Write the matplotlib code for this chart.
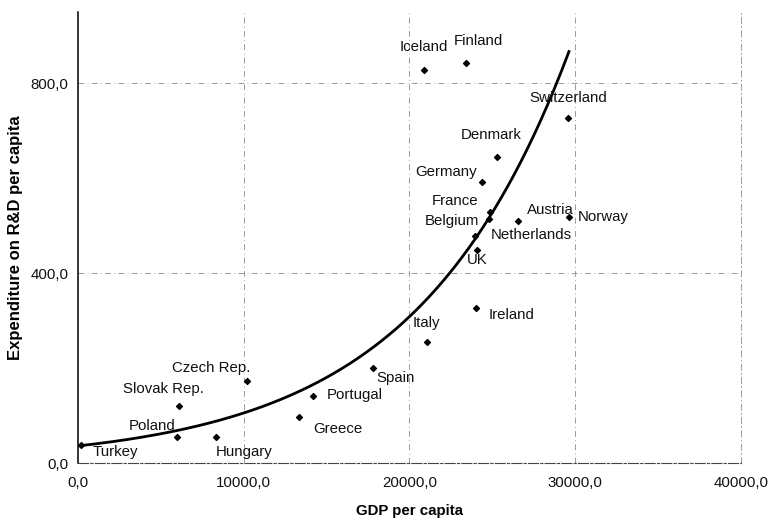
import numpy as np
import matplotlib
matplotlib.use("Agg")
import matplotlib.pyplot as plt
from matplotlib.ticker import FuncFormatter

plt.rcParams['font.family'] = ['Liberation Sans', 'DejaVu Sans']

countries = ["Turkey", "Poland", "Slovak Rep.", "Hungary", "Czech Rep.", "Greece",
             "Portugal", "Spain", "Italy", "Ireland", "UK", "Belgium", "France",
             "Austria", "Netherlands", "Norway", "Germany", "Denmark",
             "Switzerland", "Finland", "Iceland"]
gdp = [200, 5970, 6090, 8330, 10180, 13350,
       14200, 17820, 21050, 24010, 24070, 23950, 24860,
       24800, 26550, 29620, 24370, 25270,
       29560, 23400, 20900]
rd = [37, 55, 120, 55, 173, 97,
      141, 200, 255, 326, 448, 478, 528,
      515, 509, 518, 592, 644,
      726, 842, 827]

# exponential trend line: y = TREND_A * exp(TREND_B * x)
TREND_A = 36.0
TREND_B = 1.074e-4
TREND_X_END = 29620

# label offsets (points) relative to each marker
label_offsets = {
    "Turkey": (8, -5), "Poland": (-35, 8), "Slovak Rep.": (-40, 12),
    "Hungary": (0, -11), "Czech Rep.": (-54, 9), "Greece": (10, -9),
    "Portugal": (10, 1), "Spain": (2, -7), "Italy": (-10, 14),
    "Ireland": (9, -5), "UK": (-7, -7), "Belgium": (-36, 11),
    "France": (-42, 8), "Austria": (27, 6), "Netherlands": (-20, -10),
    "Norway": (6, 0), "Germany": (-48, 7), "Denmark": (-26, 16),
    "Switzerland": (-28, 15), "Finland": (-9, 16), "Iceland": (-18, 17),
}

fig = plt.figure(figsize=(7.69, 5.23), dpi=100)
ax = fig.add_axes([0.1014, 0.1147, 0.8622, 0.8623])

ax.set_xlim(0, 40000)
ax.set_ylim(0, 950)

grid_style = dict(color='#8a8a8a', lw=0.6, linestyle=(0, (7, 4, 1, 4)), zorder=0)
for gx in (10000, 20000, 30000):
    ax.axvline(gx, **grid_style)
for gy in (400, 800):
    ax.axhline(gy, **grid_style)

ax.spines['top'].set_visible(False)
ax.spines['right'].set_linestyle((0, (7, 4, 1, 4)))
ax.spines['right'].set_color('#8a8a8a')
ax.spines['right'].set_linewidth(0.6)
ax.spines['bottom'].set_linestyle((0, (9, 2, 2, 2)))
ax.spines['bottom'].set_color('#444444')
ax.spines['bottom'].set_linewidth(0.8)
ax.spines['left'].set_color('black')
ax.spines['left'].set_linewidth(1.1)

xs = np.linspace(0, TREND_X_END, 300)
ax.plot(xs, TREND_A * np.exp(TREND_B * xs), color='black', lw=2.0, zorder=2)

ax.scatter(gdp, rd, marker='D', s=9, color='black', zorder=3)

for name, x, y in zip(countries, gdp, rd):
    dx, dy = label_offsets[name]
    ax.annotate(name, (x, y), xytext=(dx, dy), textcoords='offset points',
                fontsize=10.8, ha='left', va='center', color='#111111')

ax.set_xticks([0, 10000, 20000, 30000, 40000])
ax.set_yticks([0, 400, 800])
fmt = FuncFormatter(lambda v, p: f"{v:.1f}".replace('.', ','))
ax.xaxis.set_major_formatter(fmt)
ax.yaxis.set_major_formatter(fmt)
ax.tick_params(axis='both', length=0, labelsize=10.8, colors='#111111')
ax.tick_params(axis='x', pad=9.5)
ax.tick_params(axis='y', pad=7)

ax.set_xlabel("GDP per capita", fontsize=10.8, fontweight='bold', labelpad=10)
ax.set_ylabel("Expenditure on R&D per capita", fontsize=12, fontweight='bold', labelpad=5)

fig.savefig("out.png", dpi=100)
